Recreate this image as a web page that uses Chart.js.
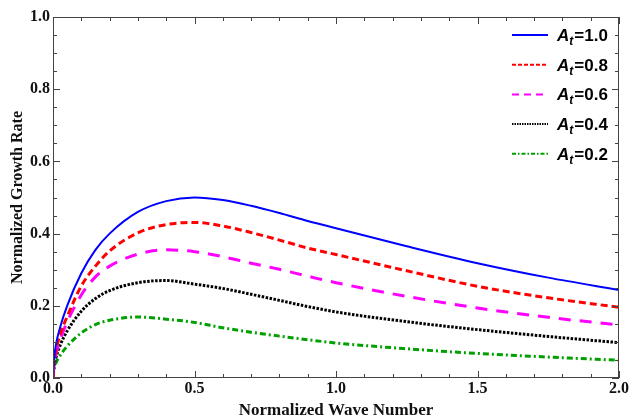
<!DOCTYPE html>
<html>
<head>
<meta charset="utf-8">
<script src="https://cdn.jsdelivr.net/npm/chart.js@4/dist/chart.umd.min.js"></script>
<style>
  html, body { margin: 0; padding: 0; background: #fff; }
  #growth-chart { display: block; }
</style>
</head>
<body>
<canvas id="growth-chart" width="630" height="419"></canvas>
<script>
// values
var waveNumber = [0, 0.003, 0.01, 0.025, 0.05, 0.1, 0.15, 0.2, 0.3, 0.4, 0.5, 0.6, 0.7, 0.8, 0.9, 1.0, 1.25, 1.5, 1.75, 2.0];
var growthA10 = [0, 0.045, 0.09, 0.14, 0.20, 0.29, 0.355, 0.40, 0.46, 0.49, 0.50, 0.493, 0.477, 0.457, 0.435, 0.415, 0.365, 0.318, 0.278, 0.244];
var growthA08 = [0, 0.04, 0.075, 0.12, 0.17, 0.255, 0.31, 0.352, 0.402, 0.425, 0.431, 0.421, 0.403, 0.382, 0.36, 0.342, 0.297, 0.254, 0.222, 0.196];
var growthA06 = [0, 0.035, 0.065, 0.105, 0.155, 0.23, 0.28, 0.31, 0.343, 0.355, 0.35, 0.336, 0.318, 0.301, 0.282, 0.264, 0.226, 0.194, 0.168, 0.147];
var growthA04 = [0, 0.03, 0.055, 0.09, 0.13, 0.185, 0.22, 0.242, 0.264, 0.27, 0.26, 0.248, 0.232, 0.215, 0.198, 0.183, 0.156, 0.134, 0.115, 0.098];
var growthA02 = [0, 0.02, 0.04, 0.062, 0.088, 0.125, 0.148, 0.16, 0.169, 0.163, 0.154, 0.139, 0.127, 0.116, 0.106, 0.097, 0.081, 0.068, 0.058, 0.049];
var atwoodLabels = ['1.0', '0.8', '0.6', '0.4', '0.2'];
var xMajorTicks = [0, 0.5, 1.0, 1.5, 2.0];
var yMajorTicks = [0, 0.2, 0.4, 0.6, 0.8, 1.0];

var colors = ['#0000ff', '#ff0000', '#ff00ff', '#000000', '#00a000'];
var plotDashes = [[], [7, 4], [12, 9], [2.5, 1.5], [6, 3, 2, 3]];
var legendDashes = [[], [4, 2], [7, 5], [1.5, 1], [4, 2, 1.5, 2]];
var widths = [2, 3, 3, 3, 3];
var allSeries = [growthA10, growthA08, growthA06, growthA04, growthA02];

function toPoints(ys) {
  return waveNumber.map(function(k, i) { return { x: k, y: ys[i] }; });
}

var datasets = allSeries.map(function(ys, i) {
  return {
    label: 'At=' + atwoodLabels[i],
    data: toPoints(ys),
    borderColor: colors[i],
    borderWidth: widths[i],
    borderDash: plotDashes[i],
    pointRadius: 0,
    fill: false,
    cubicInterpolationMode: 'monotone'
  };
});

var serif = "'Liberation Serif', 'Times New Roman', serif";
var sans = "'Liberation Sans', Arial, sans-serif";

// frame with inward ticks on all four sides (Mathematica style)
var frameTicks = {
  id: 'frameTicks',
  afterDraw: function(chart) {
    var c = chart.ctx, a = chart.chartArea;
    var xs = chart.scales.x, ys = chart.scales.y;
    c.save();
    c.strokeStyle = '#444';
    c.lineWidth = 1;
    c.setLineDash([]);
    c.strokeRect(a.left + 0.5, a.top + 0.5, a.right - a.left - 1, a.bottom - a.top - 1);
    c.beginPath();
    for (var i = 0; i <= 20; i++) {
      var v = i / 10;
      var px = Math.round(xs.getPixelForValue(v)) + 0.5;
      var len = (i % 5 === 0) ? 7 : 4;
      c.moveTo(px, a.bottom); c.lineTo(px, a.bottom - len);
      c.moveTo(px, a.top); c.lineTo(px, a.top + len);
    }
    for (var j = 0; j <= 20; j++) {
      var w = j / 20;
      var py = Math.round(ys.getPixelForValue(w)) + 0.5;
      var l2 = (j % 4 === 0) ? 7 : 4;
      c.moveTo(a.left, py); c.lineTo(a.left + l2, py);
      c.moveTo(a.right, py); c.lineTo(a.right - l2, py);
    }
    c.stroke();
    c.restore();
  }
};

// legend with subscripted A_t labels
var atLegend = {
  id: 'atLegend',
  afterDraw: function(chart) {
    var c = chart.ctx;
    c.save();
    for (var i = 0; i < atwoodLabels.length; i++) {
      var y = 35 + i * 29.7;
      c.beginPath();
      c.strokeStyle = colors[i];
      c.lineWidth = 2;
      c.setLineDash(legendDashes[i]);
      c.moveTo(512, y); c.lineTo(548, y);
      c.stroke();
      c.setLineDash([]);
      c.fillStyle = '#000';
      c.textBaseline = 'alphabetic';
      var base = y + 6;
      c.font = 'italic bold 17px ' + sans;
      c.fillText('A', 557, base);
      var x = 557 + c.measureText('A').width;
      c.font = 'italic bold 12px ' + sans;
      c.fillText('t', x, base + 4);
      x += c.measureText('t').width + 1;
      c.font = 'bold 17px ' + sans;
      c.fillText('=' + atwoodLabels[i], x, base);
    }
    c.restore();
  }
};

var growthChart = new Chart(document.getElementById('growth-chart').getContext('2d'), {
  type: 'line',
  data: { datasets: datasets },
  options: {
    responsive: false,
    animation: false,
    layout: { padding: { left: 0, right: 11, top: 17, bottom: 0 } },
    plugins: { legend: { display: false }, tooltip: { enabled: false } },
    scales: {
      x: {
        type: 'linear',
        min: 0, max: 2,
        afterFit: function(s) { s.height = 41; },
        afterBuildTicks: function(s) { s.ticks = xMajorTicks.map(function(v) { return { value: v }; }); },
        grid: { display: false, drawTicks: false },
        border: { display: false },
        ticks: {
          padding: 1,
          color: '#111',
          font: { family: serif, size: 16, weight: 'bold' },
          callback: function(v) { return v.toFixed(1); }
        },
        title: {
          display: true,
          text: 'Normalized Wave Number',
          color: '#111',
          font: { family: serif, size: 17, weight: 'bold' },
          padding: { top: 0, bottom: -2 }
        }
      },
      y: {
        min: 0, max: 1,
        afterFit: function(s) { s.width = 53; },
        afterBuildTicks: function(s) { s.ticks = yMajorTicks.map(function(v) { return { value: v }; }); },
        grid: { display: false, drawTicks: false },
        border: { display: false },
        ticks: {
          padding: 3,
          color: '#111',
          font: { family: serif, size: 16, weight: 'bold' },
          callback: function(v) { return v.toFixed(1); }
        },
        title: {
          display: true,
          text: 'Normalized Growth Rate',
          color: '#111',
          font: { family: serif, size: 16, weight: 'bold' },
          padding: { top: 8, bottom: 0 }
        }
      }
    }
  },
  plugins: [frameTicks, atLegend]
});
</script>
</body>
</html>
